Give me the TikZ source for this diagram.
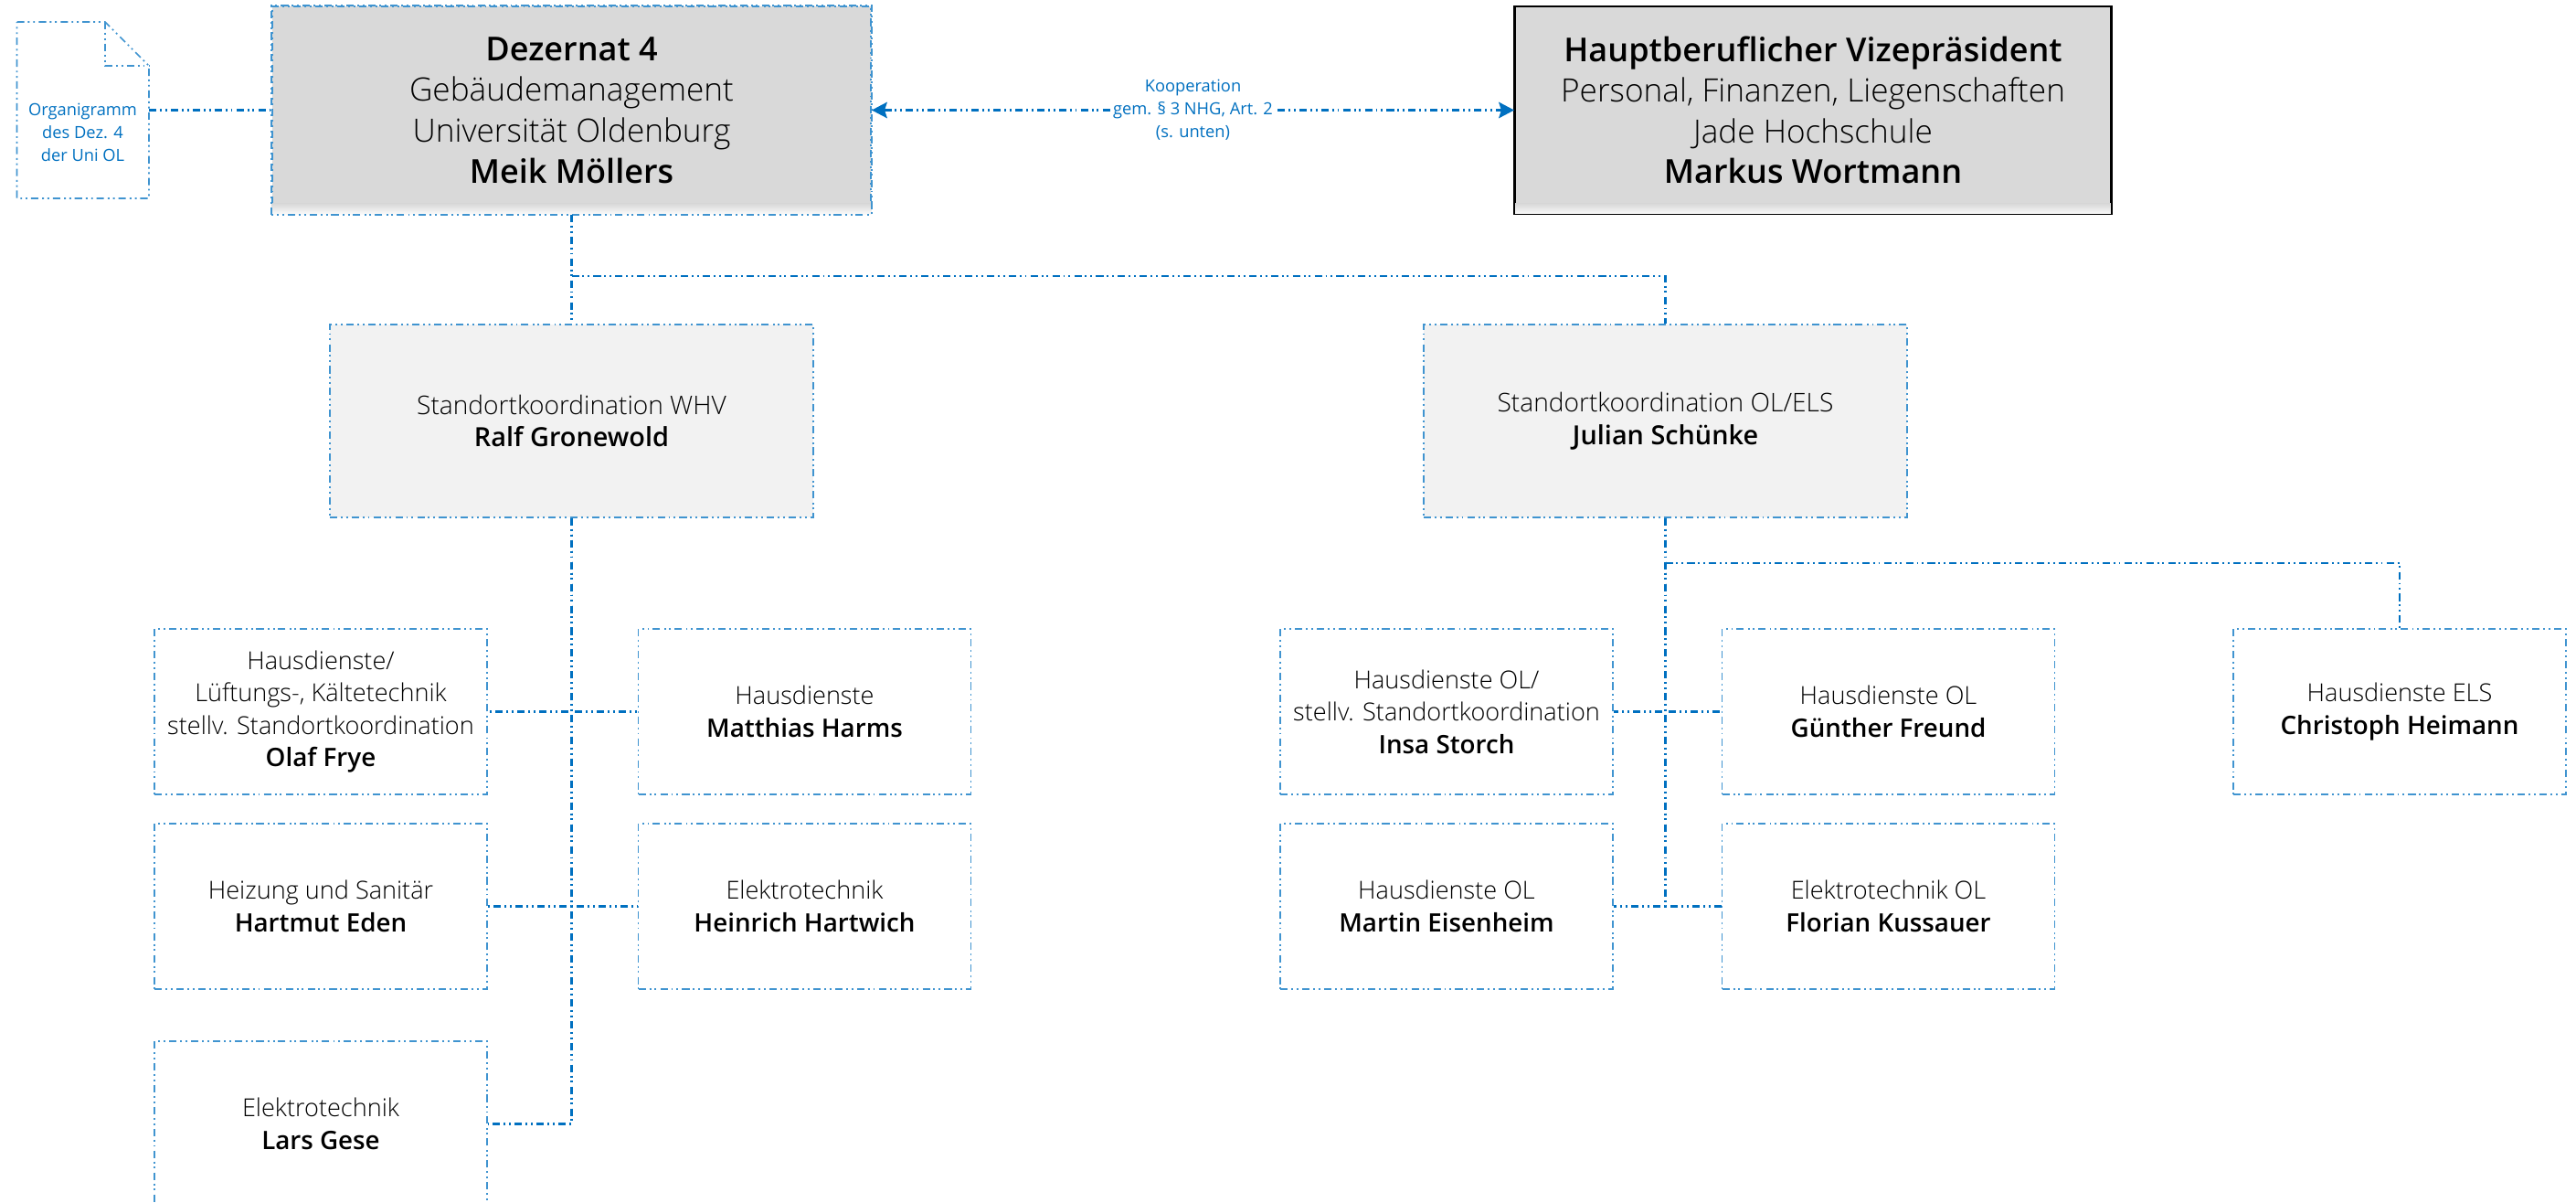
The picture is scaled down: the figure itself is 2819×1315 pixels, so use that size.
\documentclass[tikz,border=0pt]{standalone}
\usepackage{fontspec}
\setmainfont{Open Sans Light}[BoldFont={Open Sans Semibold},BoldFeatures={Scale=1.025}]
\newfontfamily\tipfont{Open Sans}
\usepackage{tikz}
\usetikzlibrary{arrows.meta}

\definecolor{linkblue}{HTML}{0070C0}
\definecolor{headgrey}{HTML}{D9D9D9}
\definecolor{sitegrey}{HTML}{F2F2F2}

\tikzset{
  dashline/.style={dash pattern=on 2.3pt off 1.1pt on .55pt off 1.1pt on .55pt off 1.2pt},
  conn/.style={draw=linkblue, line width=0.6pt, dashline},
  frame/.style={draw=linkblue!75, line width=0.45pt, dashline, align=center, text=black, inner sep=0pt},
  headbox/.style={frame, fill=headgrey, minimum width=6.55cm, minimum height=2.27cm, font=\fontsize{10}{12.66}\selectfont},
  sitebox/.style={frame, fill=sitegrey, minimum width=5.29cm, minimum height=2.11cm, font=\fontsize{8}{10.1}\selectfont},
  staffbox/.style={frame, minimum width=3.635cm, minimum height=1.81cm, font=\fontsize{7.7}{10.1}\selectfont},
  tiplabel/.style={font=\tipfont\fontsize{5.2}{7.1}\selectfont, text=linkblue, align=center},
  fadebar/.style={top color=headgrey, bottom color=white!92!headgrey}
}

\begin{document}
\begin{tikzpicture}[x=0.01cm,y=-0.01cm]
    \useasboundingbox (0,0) rectangle (2819,1315);

    % Top row
    \node[headbox] (dez) at (625.5,120.5) {\textbf{Dezernat 4}\\Gebäudemanagement\\Universität Oldenburg\\\textbf{Meik Möllers}};
    \node[headbox, draw=black, solid, minimum width=6.52cm] (vp) at (1984,120.5) {\textbf{Hauptberuflicher Vizepräsident}\\Personal, Finanzen, Liegenschaften\\Jade Hochschule\\\textbf{Markus Wortmann}};
    \fill[fadebar] ([yshift=3.4pt]dez.south west) rectangle (dez.south east);
    \fill[fadebar] ([yshift=3.4pt]vp.south west) rectangle (vp.south east);
    \draw[frame] (dez.south west) rectangle (dez.north east);
    \draw[black, line width=.35pt] (vp.south west) rectangle (vp.north east);

    % Document symbol
    \coordinate (doctl) at (18.5,24);
    \coordinate (docbr) at (163,217);
    \coordinate (docin) at (115,72);
    \draw[frame] (doctl) -- (docin |- doctl) -- (docbr |- docin) -- (docbr) -- (doctl |- docbr) -- cycle;
    \draw[frame] (docin |- doctl) -- (docin) -- (docbr |- docin);
    \node[tiplabel] (doc) at (90.5,145) {Organigramm\\des Dez. 4\\der Uni OL};
    \coordinate (docout) at (163,120.5);
    \draw[conn] (docout) -- (dez.west);

    % Cooperation
    \draw[conn, {Stealth[length=4.8pt,width=5pt,inset=.8pt]}-{Stealth[length=4.8pt,width=5pt,inset=.8pt]}] (dez.east) -- (vp.west) node[pos=0.5, fill=white, inner sep=.4pt, tiplabel] (coop) {Kooperation\\gem. § 3 NHG, Art. 2\\(s. unten)};

    % Site coordination
    \node[sitebox] (whv) at (625.5,460.5) {Standortkoordination WHV\\\textbf{Ralf Gronewold}};
    \node[sitebox] (ole) at (1822.5,460.5) {Standortkoordination OL/ELS\\\textbf{Julian Schünke}};

    \coordinate (topfork) at (625.5,302);
    \coordinate (olefork) at (1822.5,616);
    \draw[conn] (dez.south) -- (whv.north);
    \draw[conn] (topfork) -| (ole.north);

    % Staff
    \foreach \id/\px/\py/\label in {frye/351/778.5/{Hausdienste/\\Lüftungs-, Kältetechnik\\stellv. Standortkoordination\\\textbf{Olaf Frye}},
      harms/880.5/778.5/{Hausdienste\\\textbf{Matthias Harms}},
      eden/351/991.5/{Heizung und Sanitär\\\textbf{Hartmut Eden}},
      hartwich/880.5/991.5/{Elektrotechnik\\\textbf{Heinrich Hartwich}},
      gese/351/1229.5/{Elektrotechnik\\\textbf{Lars Gese}},
      storch/1583/778.5/{Hausdienste OL/\\stellv. Standortkoordination\\\textbf{Insa Storch}},
      freund/2066.5/778.5/{Hausdienste OL\\\textbf{Günther Freund}},
      heimann/2626/778.5/{Hausdienste ELS\\\textbf{Christoph Heimann}},
      eisenheim/1583/991.5/{Hausdienste OL\\\textbf{Martin Eisenheim}},
      kussauer/2066.5/991.5/{Elektrotechnik OL\\\textbf{Florian Kussauer}}} {
      \node[staffbox] (\id) at (\px,\py) {\label};
    }

    % Connectors to staff
    \foreach \a/\b in {whv/frye.east, whv/harms.west, whv/eden.east, whv/hartwich.west, whv/gese.east, ole/storch.east, ole/freund.west, ole/eisenheim.east, ole/kussauer.west} {
      \draw[conn] (\a.south) |- (\b);
    }
    \draw[conn] (olefork) -| (heimann.north);

  \end{tikzpicture}
\end{document}
